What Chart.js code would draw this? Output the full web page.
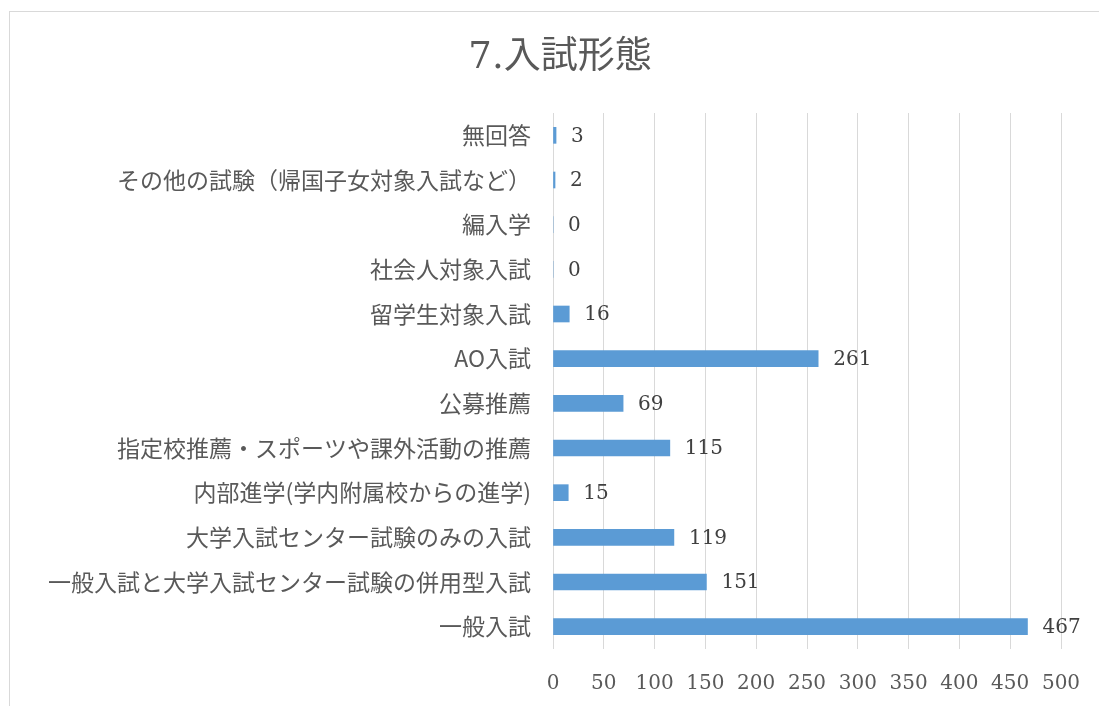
<!DOCTYPE html>
<html lang="ja">
<head>
<meta charset="utf-8">
<title>7.入試形態</title>
<script src="https://cdn.jsdelivr.net/npm/chart.js@4.4.1/dist/chart.umd.min.js"></script>
<style>
  html, body { margin: 0; padding: 0; background: #fff; overflow: hidden; width: 1099px; height: 706px; }
  #frame {
    position: absolute; left: 9px; top: 11px;
    width: 1100px; height: 720px;
    border: 1px solid #d9d9d9;
  }
  #box { position: relative; width: 1100px; height: 707px; }
</style>
</head>
<body>
<div id="frame"><div id="box"><canvas id="chart"></canvas></div></div>
<script>
const TITLE = "7.入試形態";

const categories = [
  "無回答",
  "その他の試験（帰国子女対象入試など）",
  "編入学",
  "社会人対象入試",
  "留学生対象入試",
  "AO入試",
  "公募推薦",
  "指定校推薦・スポーツや課外活動の推薦",
  "内部進学(学内附属校からの進学)",
  "大学入試センター試験のみの入試",
  "一般入試と大学入試センター試験の併用型入試",
  "一般入試",
];

const counts = [3, 2, 0, 0, 16, 261, 69, 115, 15, 119, 151, 467];

const xMin = 0;
const xMax = 500;
const xStep = 50;

const SERIF = "'DejaVu Serif', 'Liberation Serif', 'Noto Sans CJK JP', serif";
const JP = "'Noto Sans CJK JP', 'Noto Sans', sans-serif";

// value labels to the right of each bar
const valueLabels = {
  id: "valueLabels",
  afterDatasetsDraw(chart){
    const ctx = chart.ctx;
    const meta = chart.getDatasetMeta(0);
    ctx.save();
    ctx.font = "20px " + SERIF;
    ctx.fillStyle = "#404040";
    ctx.textAlign = "left";
    ctx.textBaseline = "middle";
    meta.data.forEach((bar, i) => {
      ctx.fillText(String(counts[i]), bar.x + 15, bar.y + 1);
    });
    ctx.restore();
  }
};

// long category names need room left of the padding, otherwise they get clipped
const yLabelRoom = {
  id: "yLabelRoom",
  afterLayout(chart){
    const s = chart.scales.y;
    s.left = 0;
    s.width = s.right;
  }
};

new Chart(document.getElementById("chart"), {
  type: "bar",
  data: {
    labels: categories,
    datasets: [{
      data: counts,
      backgroundColor: "#5b9bd5",
      borderWidth: 0,
      barThickness: 16,
    }]
  },
  plugins: [valueLabels, yLabelRoom],
  options: {
    indexAxis: "y",
    responsive: true,
    maintainAspectRatio: false,
    animation: false,
    layout: { padding: { left: 49, right: 49, top: 0, bottom: 0 } },
    plugins: {
      legend: { display: false },
      tooltip: { enabled: false },
      title: {
        display: true,
        text: TITLE,
        color: "#595959",
        font: { family: SERIF, size: 37, weight: "normal" },
        padding: { top: 24, bottom: 32.6 }
      }
    },
    scales: {
      x: {
        min: xMin,
        max: xMax,
        ticks: {
          stepSize: xStep,
          color: "#595959",
          font: { family: SERIF, size: 20 },
          padding: 23,
          maxRotation: 0,
        },
        grid: { color: "#d9d9d9", lineWidth: 1, drawTicks: false },
        border: { display: false },
      },
      y: {
        ticks: {
          color: "#595959",
          font: { family: JP, size: 23 },
          padding: 22,
        },
        grid: { display: false, drawTicks: false },
        border: { display: false },
        afterFit(scale){ scale.width = 494; }
      }
    }
  }
});
</script>
</body>
</html>
